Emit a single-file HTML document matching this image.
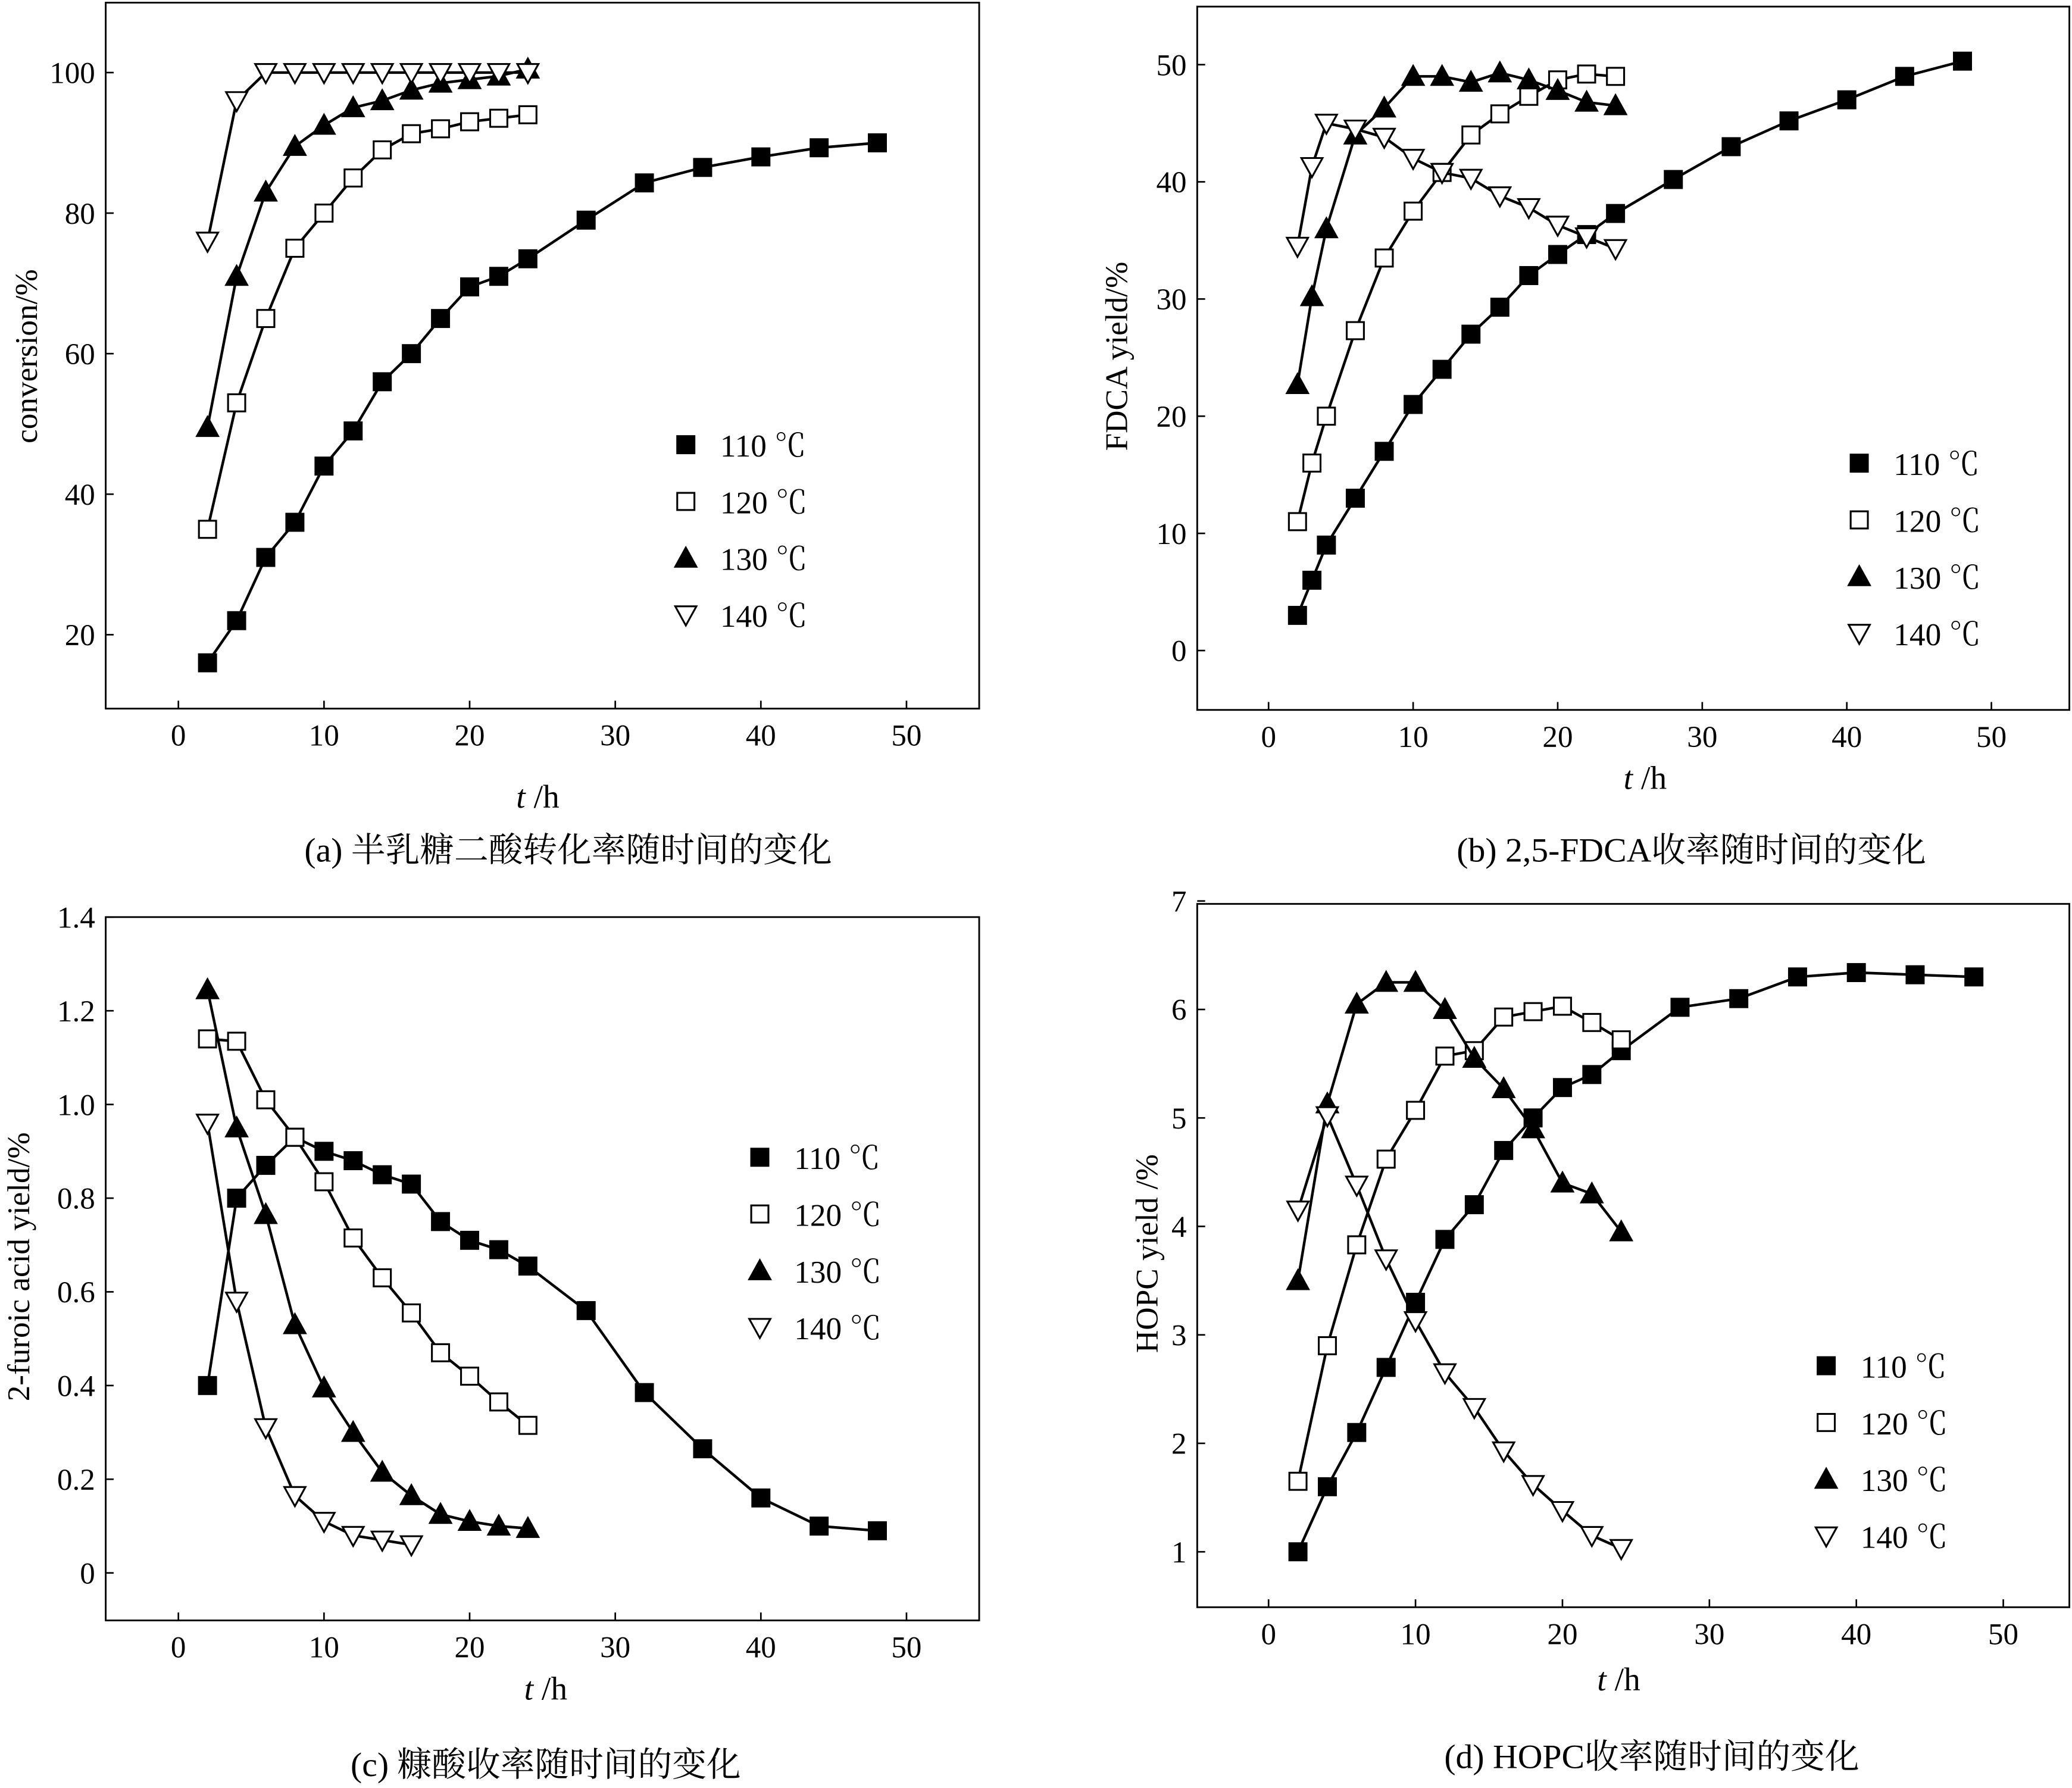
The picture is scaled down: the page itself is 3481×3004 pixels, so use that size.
<!DOCTYPE html>
<html><head><meta charset="utf-8"><style>
html,body{margin:0;padding:0;background:#fff;}
svg{display:block;font-family:"Liberation Serif","Noto Serif CJK SC",serif;}
</style></head><body>
<svg id="fig" xmlns="http://www.w3.org/2000/svg" width="3481" height="3004" viewBox="0 0 1568 1355" preserveAspectRatio="none"></svg>
<script>
// ---- data ----
const tLongA=[2,4,6,8,10,12,14,16,18,20,22,24,28,32,36,40,44,48];
const tShort=[2,4,6,8,10,12,14,16,18,20,22,24];
const aConv110=[16,22,31,36,44,49,56,60,65,69.5,71,73.5,79,84.3,86.5,88,89.3,90];
const aConv120=[35,53,65,75,80,85,89,91.3,92,93,93.5,94];
const aConv130=[49.5,71,83,89.5,92.5,95,96,97.5,98.5,99,99.5,100.5];
const aConv140=[76,96,100,100,100,100,100,100,100,100,100,100];
const tB110=[2,3,4,6,8,10,12,14,16,18,20,22,24,28,32,36,40,44,48];
const tB=[2,3,4,6,8,10,12,14,16,18,20,22,24];
const bYield110=[3,6,9,13,17,21,24,27,29.3,32,33.8,35.5,37.3,40.2,43,45.2,47,49,50.3];
const bYield120=[11,16,20,27.3,33.5,37.5,40.8,44,45.8,47.3,48.7,49.2,49];
const bYield130=[22.7,30.2,36,44,46.3,49,49,48.5,49.3,48.7,47.8,46.8,46.5];
const bYield140=[34.5,41.3,45,44.5,43.8,42,40.8,40.3,38.8,37.8,36.3,35.3,34.3];
const cFur110=[0.4,0.8,0.87,0.93,0.9,0.88,0.85,0.83,0.75,0.71,0.69,0.655,0.56,0.385,0.265,0.16,0.1,0.09];
const cFur120=[1.14,1.135,1.01,0.93,0.835,0.715,0.63,0.555,0.47,0.42,0.365,0.315];
const cFur130=[1.245,0.95,0.765,0.53,0.395,0.3,0.215,0.165,0.125,0.11,0.1,0.095];
const tC140=[2,4,6,8,10,12,14,16];
const cFur140=[0.96,0.58,0.31,0.165,0.11,0.08,0.07,0.06];
const dHopc110=[1,1.6,2.1,2.7,3.3,3.88,4.2,4.7,5,5.28,5.4,5.62,6.02,6.1,6.3,6.34,6.32,6.3];
const dHopc120=[1.65,2.9,3.83,4.62,5.07,5.57,5.62,5.93,5.98,6.03,5.88,5.72];
const dHopc130=[3.5,5.13,6.05,6.25,6.25,6,5.55,5.27,4.9,4.4,4.3,3.95];
const dHopc140=[4.15,5.02,4.38,3.7,3.13,2.65,2.33,1.93,1.62,1.38,1.15,1.03];
const xTicks=[0,10,20,30,40,50];
const aYTicks=[20,40,60,80,100];
const bYTicks=[0,10,20,30,40,50];
const cYTicks=[0,0.2,0.4,0.6,0.8,1.0,1.2,1.4];
const cYLabels=["0","0.2","0.4","0.6","0.8","1.0","1.2","1.4"];
const dYTicks=[1,2,3,4,5,6,7];
const legendLabels=["110 ℃","120 ℃","130 ℃","140 ℃"];
const markerTypes=["sq-fill","sq-open","tri-fill","tri-open"];

const NS="http://www.w3.org/2000/svg";
const svg=document.getElementById('fig');
function mk(tag,attrs,parent){const e=document.createElementNS(NS,tag);for(const k in attrs)e.setAttribute(k,attrs[k]);(parent||svg).appendChild(e);return e;}
function marker(g,type,x,y){
  const s=6.5;let e;
  if(type.startsWith('sq')) e=mk('rect',{x:x-s,y:y-s,width:2*s,height:2*s},g);
  else if(type==='tri-fill') e=mk('polygon',{points:`${x},${y-s-1.5} ${x-s-1.5},${y+s} ${x+s+1.5},${y+s}`},g);
  else e=mk('polygon',{points:`${x-s-1.5},${y-s} ${x+s+1.5},${y-s} ${x},${y+s+1.5}`},g);
  e.setAttribute('fill',type.endsWith('fill')?'#000':'#fff');
  e.setAttribute('stroke','#000');e.setAttribute('stroke-width','1.4');
  return e;
}
function panel(cfg){
  const g=mk('g',{});
  
  
  const X=v=>cfg.x0+(v-cfg.xv0)*cfg.xs, Y=v=>cfg.y0-(v-cfg.yv0)*cfg.ys;
  const box=mk('rect',{x:cfg.L,y:cfg.T,width:cfg.R-cfg.L,height:cfg.B-cfg.T,fill:'none',stroke:'#000','stroke-width':1.3},g);
  
  xTicks.forEach(v=>{const x=X(v);mk('line',{x1:x,x2:x,y1:cfg.B,y2:cfg.B-6,stroke:'#000','stroke-width':1.2},g);
    const t=mk('text',{x:x,y:cfg.B+28,'text-anchor':'middle','font-size':23},g);t.textContent=v;
    });
  cfg.yt.forEach((v,i)=>{const y=Y(v);mk('line',{x1:cfg.L,x2:cfg.L+6,y1:y,y2:y,stroke:'#000','stroke-width':1.2},g);
    const t=mk('text',{x:cfg.L-8,y:y+8,'text-anchor':'end','font-size':23},g);t.textContent=cfg.yl?cfg.yl[i]:v;
    });
  cfg.series.forEach((s,i)=>{
    const sg=mk('g',{},g);
    
    
    mk('polyline',{points:s.t.map((t,j)=>X(t)+','+Y(s.v[j])).join(' '),fill:'none',stroke:'#000','stroke-width':2},sg);
    s.t.forEach((t,j)=>marker(sg,markerTypes[i],X(t),Y(s.v[j])));
  });
  legendLabels.forEach((l,i)=>{
    const y=cfg.lg[1]+i*43;
    const lg=mk('g',{},g);
    
    marker(lg,markerTypes[i],cfg.lg[0],y);
    const t=mk('text',{x:cfg.lg[0]+26,y:y+9,'font-size':24},lg);t.textContent=l;
  });
  const yl=mk('text',{x:cfg.ylab[0],y:cfg.ylab[1],'text-anchor':'middle','font-size':24,transform:`rotate(-90 ${cfg.ylab[0]} ${cfg.ylab[1]})`},g);
  yl.textContent=cfg.ylabText;
  const xl=mk('text',{x:cfg.xlab[0],y:cfg.xlab[1],'text-anchor':'middle','font-size':25},g);
  xl.innerHTML='<tspan font-style="italic">t</tspan> /h';
  
  const cap=mk('text',{x:cfg.cap[0],y:cfg.cap[1],'text-anchor':'middle','font-size':26},g);
  cap.textContent=cfg.capText;
}
panel({name:'panel-a-conversion',L:80,R:741,T:2,B:537,x0:135,xv0:0,xs:11.02,y0:481,yv0:20,ys:5.325,yt:aYTicks,
  series:[{t:tLongA,v:aConv110},{t:tShort,v:aConv120},{t:tShort,v:aConv130},{t:tShort,v:aConv140}],
  lg:[519,337],ylab:[28,270],ylabText:'conversion/%',xlab:[407,612],cap:[430,653],capText:'(a) 半乳糖二酸转化率随时间的变化'});
panel({name:'panel-b-fdca',L:906,R:1566,T:5,B:538,x0:960,xv0:0,xs:10.94,y0:493,yv0:0,ys:8.88,yt:bYTicks,
  series:[{t:tB110,v:bYield110},{t:tB,v:bYield120},{t:tB,v:bYield130},{t:tB,v:bYield140}],
  lg:[1407,351],ylab:[853,270],ylabText:'FDCA yield/%',xlab:[1245,598],cap:[1280,653],capText:'(b) 2,5-FDCA收率随时间的变化'});
panel({name:'panel-c-furoic',L:80,R:741,T:695,B:1228,x0:135,xv0:0,xs:11.02,y0:1192,yv0:0,ys:355,yt:cYTicks,yl:cYLabels,
  series:[{t:tLongA,v:cFur110},{t:tShort,v:cFur120},{t:tShort,v:cFur130},{t:tC140,v:cFur140}],
  lg:[575,877],ylab:[22,960],ylabText:'2-furoic acid yield/%',xlab:[413,1288],cap:[413,1346],capText:'(c) 糠酸收率随时间的变化'});
panel({name:'panel-d-hopc',L:906,R:1566,T:685,B:1218,x0:960,xv0:0,xs:11.12,y0:1176,yv0:1,ys:82.2,yt:dYTicks,
  series:[{t:tLongA,v:dHopc110},{t:tShort,v:dHopc120},{t:tShort,v:dHopc130},{t:tShort,v:dHopc140}],
  lg:[1382,1035],ylab:[876,950],ylabText:'HOPC  yield /%',xlab:[1225,1281],cap:[1250,1340],capText:'(d) HOPC收率随时间的变化'});
</script>
</body></html>
